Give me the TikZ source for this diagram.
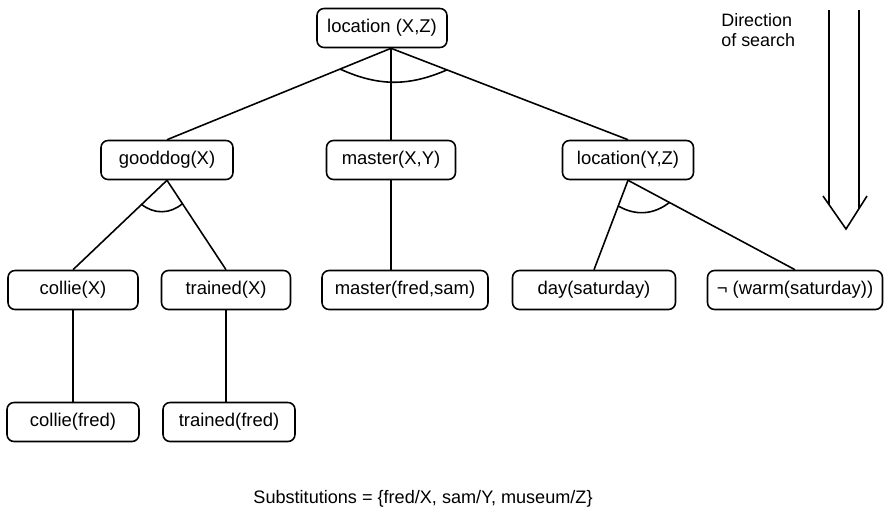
\documentclass[tikz,border=0pt]{standalone}
\usepackage{fontspec}
\setmainfont{Liberation Sans}
\usetikzlibrary{calc}

\begin{document}
\begin{tikzpicture}[x=0.02cm, y=-0.02cm,
    goal/.style={draw, rounded corners=4pt, line width=0.9pt, minimum width=2.6cm, minimum height=0.78cm, inner sep=2pt, align=center, font=\fontsize{10.5}{12}\selectfont},
    link/.style={line width=0.9pt},
    andarc/.style={line width=0.9pt}
]
\useasboundingbox (0,0) rectangle (885,511);

% top goal
\node[goal] (root) at (382, 28) {location (X,Z)};

% subgoals
\node[goal, minimum width=2.64cm] (gooddog) at (167, 160) {gooddog(X)};
\node[goal, minimum width=2.58cm] (masterxy) at (391, 160) {master(X,Y)};
\node[goal, minimum width=2.62cm] (locyz) at (628, 160) {location(Y,Z)};

% third row
\node[goal] (colliex) at (73, 290) {collie(X)};
\node[goal, minimum width=2.58cm] (trainedx) at (226, 290) {trained(X)};
\node[goal, minimum width=3.32cm] (masterfs) at (405, 290) {master(fred,sam)};
\node[goal, minimum width=3.26cm] (day) at (594, 290) {day(saturday)};
\node[goal, minimum width=3.5cm] (notwarm) at (795, 290) {¬ (warm(saturday))};

% facts
\node[goal, minimum width=2.64cm] (colliefred) at (73, 422) {collie(fred)};
\node[goal, minimum width=2.64cm] (trainedfred) at (229, 422) {trained(fred)};

% and-links
\coordinate (fork) at (root.south -| masterxy.north);
\draw[link] (fork) -- (gooddog.north);
\draw[link] (fork) -- (masterxy.north);
\draw[link] (fork) -- (locyz.north);
\draw[andarc] ($(fork)!1.1cm!(gooddog.north)$) to[bend right=24] ($(fork)!1.2cm!(locyz.north)$);

\draw[link] (gooddog.south) -- (colliex.north);
\draw[link] (gooddog.south) -- (trainedx.north);
\draw[andarc] ($(gooddog.south)!0.7cm!(colliex.north)$) to[bend right=40] ($(gooddog.south)!0.56cm!(trainedx.north)$);

\draw[link] (masterxy.south) -- (masterxy.south |- masterfs.north);

\draw[link] (locyz.south) -- (day.north);
\draw[link] (locyz.south) -- (notwarm.north);
\draw[andarc] ($(locyz.south)!0.55cm!(day.north)$) to[bend right=34] ($(locyz.south)!0.94cm!(notwarm.north)$);

\draw[link] (colliex.south) -- (colliefred.north);
\draw[link] (trainedx.south) -- (trainedx.south |- trainedfred.north);

% direction of search
\node[anchor=north west, inner sep=0pt, align=left, font=\fontsize{10.2}{11.4}\selectfont] (dirlabel) at (721, 13) {Direction\\of search};
\coordinate (shaftl) at (829, 10);
\coordinate (shaftr) at (859, 10);
\coordinate (headl) at (823, 196);
\coordinate (headr) at (867, 196);
\coordinate (tip) at (846, 229);
\draw[link] (shaftl) -- (829, 205);
\draw[link] (shaftr) -- (859, 209);
\draw[link] (headl) -- (tip) -- (headr);

% substitutions
\node[anchor=base, font=\fontsize{10.3}{12}\selectfont] (subst) at (423, 503) {Substitutions = \{fred/X, sam/Y, museum/Z\}};

\end{tikzpicture}
\end{document}
